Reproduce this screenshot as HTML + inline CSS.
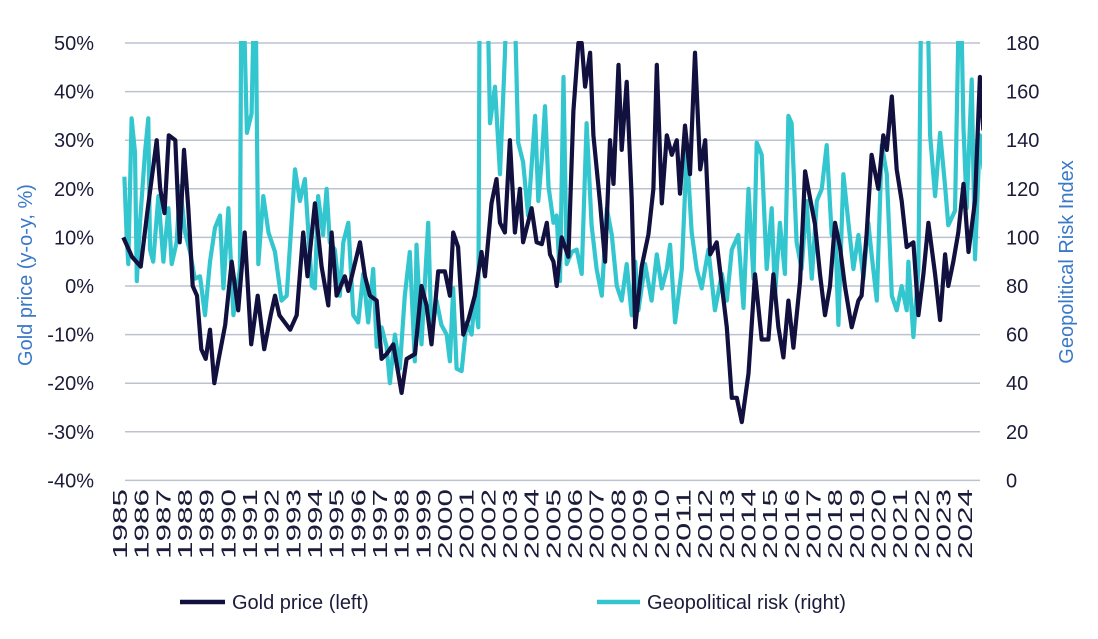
<!DOCTYPE html>
<html><head><meta charset="utf-8"><style>
body{margin:0;background:#fff;width:1098px;height:634px;overflow:hidden;font-family:"Liberation Sans",sans-serif}
svg text{font-family:"Liberation Sans",sans-serif}
</style></head><body>
<svg id="c" width="1098" height="634" xmlns="http://www.w3.org/2000/svg">
<defs><clipPath id="plot"><rect x="97" y="41" width="885" height="440"/></clipPath></defs>
<g id="grid"></g>
<g id="ylabL"></g>
<g id="ylabR"></g>
<g id="xlab"></g>
<text transform="translate(32,275) rotate(-90)" text-anchor="middle" font-size="20" fill="#3a78c8">Gold price (y-o-y, %)</text>
<text transform="translate(1073,262) rotate(-90)" text-anchor="middle" font-size="20" fill="#3a78c8">Geopolitical Risk Index</text>
<g clip-path="url(#plot)">
<path id="geoLine" fill="none" stroke="#33c6cf" stroke-width="4.2" stroke-linejoin="round"/>
<path id="goldLine" fill="none" stroke="#11103f" stroke-width="4.2" stroke-linejoin="round"/>
</g>
<g>
<line x1="180" y1="602" x2="225" y2="602" stroke="#11103f" stroke-width="4.5"/>
<text x="232" y="609" font-size="20" fill="#1b1b3a">Gold price (left)</text>
<line x1="597" y1="602" x2="640" y2="602" stroke="#33c6cf" stroke-width="4.5"/>
<text x="647" y="609" font-size="20" fill="#1b1b3a">Geopolitical risk (right)</text>
</g>
</svg>
<script>
const leftTicks=["50%","40%","30%","20%","10%","0%","-10%","-20%","-30%","-40%"];
const rightTicks=["180","160","140","120","100","80","60","40","20","0"];
const years=[];for(let y=1985;y<=2024;y++)years.push(String(y));
const goldT=[1985.2,1985.6,1986.0,1986.3,1986.74,1986.9,1987.1,1987.3,1987.6,1987.8,1988.0,1988.2,1988.4,1988.6,1988.8,1989.0,1989.2,1989.4,1989.6,1989.9,1990.2,1990.5,1990.8,1991.1,1991.4,1991.7,1992.0,1992.2,1992.4,1992.9,1993.2,1993.5,1993.7,1994.04,1994.35,1994.66,1994.81,1995.04,1995.42,1995.58,1996.12,1996.35,1996.58,1996.89,1997.12,1997.35,1997.66,1997.89,1998.04,1998.27,1998.66,1998.96,1999.19,1999.42,1999.73,2000.04,2000.27,2000.42,2000.65,2000.89,2001.12,2001.42,2001.73,2001.89,2002.19,2002.42,2002.58,2002.81,2003.04,2003.27,2003.5,2003.65,2004.04,2004.27,2004.51,2004.74,2004.89,2005.05,2005.2,2005.43,2005.74,2005.97,2006.2,2006.35,2006.51,2006.74,2006.89,2007.2,2007.43,2007.66,2007.82,2008.05,2008.2,2008.43,2008.66,2008.82,2009.12,2009.43,2009.66,2009.82,2010.05,2010.28,2010.51,2010.74,2010.89,2011.12,2011.35,2011.58,2011.82,2012.05,2012.28,2012.58,2012.82,2013.05,2013.28,2013.51,2013.74,2014.05,2014.35,2014.66,2014.97,2015.2,2015.43,2015.66,2015.89,2016.12,2016.43,2016.66,2016.89,2017.12,2017.35,2017.58,2017.81,2018.04,2018.27,2018.5,2018.81,2019.12,2019.27,2019.5,2019.73,2020.04,2020.27,2020.43,2020.66,2020.89,2021.12,2021.35,2021.66,2021.89,2022.12,2022.35,2022.66,2022.89,2023.12,2023.27,2023.5,2023.73,2023.97,2024.2,2024.5,2024.73,2024.89];
const goldV=[10,6,4,15,30,20,15,31,30,9,28,16,0,-2,-13,-15,-9,-20,-15,-8,5,-5,11,-12,-2,-13,-6,-2,-6,-9,-6,11,2,17,4,-4,11,-2,2,-1,9,2,-2,-3,-15,-14,-12,-18,-22,-15,-14,0,-4,-12,3,3,-2,11,8,-10,-7,-2,7,2,17,22,13,11,30,11,20,9,16,9,8.6,13,6.5,5,0,10,6,36,50,50,41,48,31,17,5,30,21,45.5,28,42,18,-8.5,4,10.6,20,45.5,17,31,27,30,19,33,23,48,24,30,6.5,9,0,-8.5,-23,-23,-28,-18,2.4,-11,-11,2.4,-8.5,-14.7,-3,-12.7,1,23.6,18,12.7,2.4,-6,0,13,8,0,-8.5,-3,-2,10.6,27,20,31,28,39,24,17.5,8,9,-6,2.4,13,2.4,-7,6.5,0,5,11,21,7,17.5,43,32,29];
const geoT=[1985.25,1985.35,1985.43,1985.58,1985.74,1985.82,1985.97,1986.2,1986.35,1986.43,1986.58,1986.82,1987.05,1987.28,1987.43,1987.66,1987.82,1988.05,1988.28,1988.5,1988.74,1988.97,1989.2,1989.43,1989.66,1989.82,1990.05,1990.28,1990.58,1990.66,1990.9,1991.12,1991.28,1991.43,1991.66,1991.9,1992.2,1992.5,1992.74,1993.12,1993.35,1993.58,1993.9,1994.04,1994.19,1994.42,1994.58,1994.73,1994.96,1995.19,1995.35,1995.58,1995.81,1996.04,1996.27,1996.5,1996.73,1996.89,1997.12,1997.35,1997.5,1997.73,1997.96,1998.19,1998.42,1998.65,1998.73,1998.96,1999.27,1999.42,1999.65,1999.88,2000.12,2000.27,2000.42,2000.58,2000.81,2001.04,2001.27,2001.42,2001.58,2001.65,2001.96,2002.12,2002.35,2002.58,2002.81,2002.96,2003.19,2003.42,2003.65,2003.88,2004.2,2004.35,2004.51,2004.66,2004.82,2005.05,2005.2,2005.35,2005.51,2005.66,2005.89,2006.12,2006.35,2006.58,2006.81,2007.04,2007.28,2007.51,2007.74,2007.97,2008.2,2008.43,2008.66,2008.82,2008.97,2009.28,2009.58,2009.82,2010.05,2010.28,2010.43,2010.66,2010.97,2011.2,2011.43,2011.66,2011.89,2012.2,2012.5,2012.82,2013.05,2013.28,2013.58,2013.82,2014.05,2014.28,2014.43,2014.66,2014.89,2015.12,2015.27,2015.5,2015.73,2015.89,2016.04,2016.27,2016.5,2016.73,2016.97,2017.2,2017.43,2017.66,2017.89,2018.04,2018.2,2018.43,2018.66,2018.89,2019.12,2019.35,2019.58,2019.73,2019.97,2020.2,2020.43,2020.66,2020.89,2021.12,2021.35,2021.43,2021.66,2021.89,2022.04,2022.27,2022.43,2022.66,2022.89,2023.12,2023.27,2023.58,2023.81,2023.97,2024.12,2024.35,2024.5,2024.73,2024.9];
const geoV=[125,101,89,149,135,82,106,135,149,95,90,117,90,112,89,98,121,102,94,83,84,68,90,104,109,79,112,68,87,230,143,151,220,89,117,102,94,74,76,128,115,124,80,79,117,101,120,98,95,76,98,106,68,65,85,65,87,55,63,55,40,60,46,76,94,49,97,56,106,60,74,64,60,49,79,46,45,65,60,75,63,220,220,147,162,126,175,220,220,139,131,109,150,115,132,154,121,106,109,82,166,89,94,95,85,147,105,87,76,112,101,80,74,89,68,90,70,89,74,93,79,87,97,65,87,136,102,87,79,95,70,85,74,95,101,71,120,83,139,134,87,112,76,106,85,150,147,98,87,115,83,115,120,138,101,106,64,126,106,87,101,83,106,93,74,138,126,76,70,80,70,90,59,87,220,220,142,117,143,121,105,111,220,145,112,165,91,142,128];
const NS='http://www.w3.org/2000/svg';
const X0=119,XS=21.67,TOP=43,STEP=48.6;
const xs=t=>X0+(t-1985)*XS;
const yL=v=>TOP+(50-v)/10*STEP;
const yR=v=>TOP+(180-v)/20*STEP;
function mk(tag,attrs,parent,txt){const e=document.createElementNS(NS,tag);for(const k in attrs)e.setAttribute(k,attrs[k]);if(txt!==undefined)e.textContent=txt;parent.appendChild(e);return e;}
const grid=document.getElementById('grid'),gl=document.getElementById('ylabL'),gr=document.getElementById('ylabR'),gx=document.getElementById('xlab');
leftTicks.forEach((lab,i)=>{
  const y=TOP+i*STEP;
  const ln=mk('line',{x1:125,x2:980,y1:y,y2:y,stroke:'#bcc3cf','stroke-width':1.5},grid);
  
  
  const t=mk('text',{x:94,y:y+7,'text-anchor':'end','font-size':20,fill:'#1b1b3a'},gl,lab);
  
  
  const r=mk('text',{x:1006,y:y+7,'font-size':20,fill:'#1b1b3a'},gr,rightTicks[i]);
  
  
});
years.forEach((yr,i)=>{
  const x=X0+i*XS;
  const t=mk('text',{transform:`translate(${x+8},489) rotate(-90)`,'text-anchor':'end','font-size':20,fill:'#1b1b3a',textLength:70,lengthAdjust:'spacingAndGlyphs'},gx,yr);
  
  
});
function path(T,V,yf){return T.map((t,i)=>(i?'L':'M')+xs(t).toFixed(1)+','+yf(V[i]).toFixed(1)).join('');}
document.getElementById('goldLine').setAttribute('d',path(goldT,goldV,yL));
document.getElementById('geoLine').setAttribute('d',path(geoT,geoV,yR));
</script>
</body></html>
